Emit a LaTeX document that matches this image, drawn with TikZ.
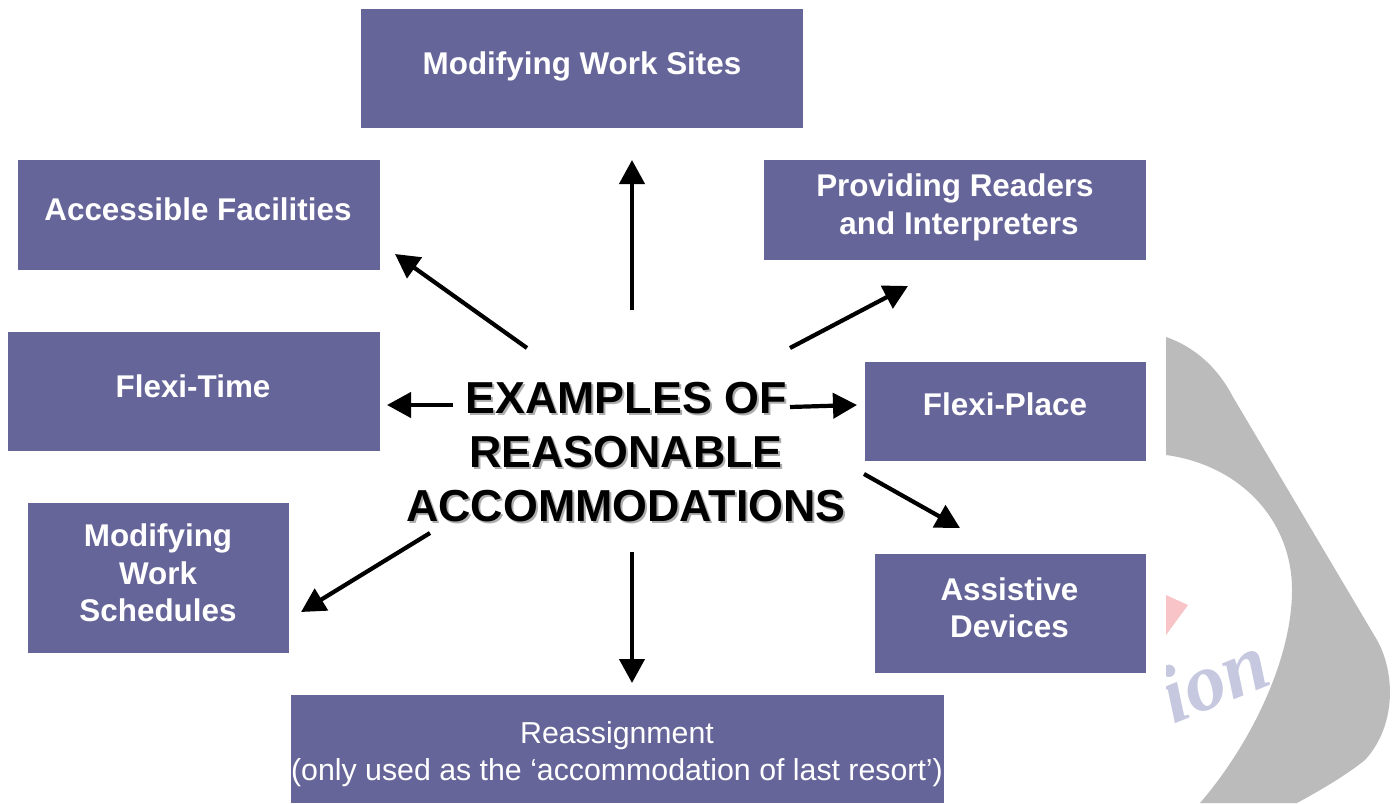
\documentclass[tikz,border=0pt]{standalone}
\usepackage{fontspec}
\setmainfont{Liberation Sans}
\newfontfamily\wmfont{Liberation Serif}
\usetikzlibrary{arrows.meta}
\definecolor{boxfill}{HTML}{666599}
\definecolor{wmgray}{HTML}{BBBBBB}
\definecolor{wmpink}{HTML}{F8C4C8}
\definecolor{wmblue}{HTML}{C6C8E0}
\tikzset{
  boxnode/.style={fill=boxfill,draw=none,inner sep=0pt,anchor=north west},
  boldtext/.style={text=white,align=center,font=\fontsize{31.4}{37.5}\selectfont\bfseries,inner sep=0pt},
  plaintext/.style={text=white,align=center,font=\fontsize{30.3}{37.5}\selectfont,inner sep=0pt},
  hubtext/.style={align=center,font=\fontsize{44.8}{54}\selectfont\bfseries,inner sep=0pt},
  conn/.style={line width=4.2pt,-{Triangle[length=24pt,width=25pt]},black}
}
\begin{document}
\begin{tikzpicture}[x=1pt,y=-1pt]
\useasboundingbox (0,0) rectangle (1397,803);
% watermark
\begin{scope}
\clip (1166,300) rectangle (1397,803);
\fill[wmgray] (1166,337) .. controls (1195,347) and (1218,368) .. (1233,397)
  -- (1377,640) .. controls (1395,672) and (1397,725) .. (1365,760)
  .. controls (1350,772) and (1330,785) .. (1297,803)
  -- (1200,803) .. controls (1250,745) and (1292,660) .. (1292,590)
  .. controls (1292,520) and (1240,465) .. (1166,455) -- cycle;
\fill[wmpink] (1166,595) -- (1188,605) -- (1166,635) -- cycle;
\node[text=wmblue,font=\fontsize{82}{82}\selectfont\wmfont\itshape\bfseries,rotate=22,inner sep=0pt] (wm) at (1214,678) {ion};
\end{scope}
% boxes
\node[boxnode,minimum width=442pt,minimum height=119pt] (sites) at (361,9) {};
\node[boxnode,minimum width=362pt,minimum height=110pt] (access) at (18,160) {};
\node[boxnode,minimum width=382pt,minimum height=100pt] (readers) at (764,160) {};
\node[boxnode,minimum width=372pt,minimum height=119pt] (ftime) at (8,332) {};
\node[boxnode,minimum width=281pt,minimum height=99pt] (fplace) at (865,362) {};
\node[boxnode,minimum width=261pt,minimum height=150pt] (sched) at (28,503) {};
\node[boxnode,minimum width=271pt,minimum height=119pt] (assist) at (875,554) {};
\node[boxnode,minimum width=653pt,minimum height=108pt] (reassign) at (291,695) {};
% box labels
\node[boldtext] (tsites) at (582,66) {Modifying Work Sites};
\node[boldtext] (taccess) at (198,209) {Accessible Facilities};
\node[boldtext] (treaders) at (955,207.5) {Providing Readers\\\hspace*{8pt}and Interpreters};
\node[boldtext] (tftime) at (193,386) {Flexi-Time};
\node[boldtext] (tfplace) at (1005,404) {Flexi-Place};
\node[boldtext] (tsched) at (158,573) {Modifying\\Work\\Schedules};
\node[boldtext] (tassist) at (1009.5,608) {Assistive\\Devices};
\node[plaintext] (treassign) at (617,754) {Reassignment\\(only used as the ‘accommodation of last resort’)};
% hub
\node[hubtext,text=black!32] (hubshadow) at (628,454) {EXAMPLES OF\\REASONABLE\\ACCOMMODATIONS};
\node[hubtext,text=black] (hub) at (626,452) {EXAMPLES OF\\REASONABLE\\ACCOMMODATIONS};
% connector ends
\coordinate (sUp) at (632,310);   \coordinate (eUp) at (632,160);
\coordinate (sAcc) at (527,348);  \coordinate (eAcc) at (395,254);
\coordinate (sRead) at (790,348); \coordinate (eRead) at (908,286);
\coordinate (sFt) at (453,405);   \coordinate (eFt) at (387,405);
\coordinate (sFp) at (790,407);   \coordinate (eFp) at (857,405);
\coordinate (sAs) at (864,474);   \coordinate (eAs) at (960,528);
\coordinate (sSch) at (430,533);  \coordinate (eSch) at (301,612);
\coordinate (sRe) at (632,552);   \coordinate (eRe) at (632,683);
\draw[conn] (sUp) -- (eUp);
\draw[conn] (sAcc) -- (eAcc);
\draw[conn] (sRead) -- (eRead);
\draw[conn] (sFt) -- (eFt);
\draw[conn] (sFp) -- (eFp);
\draw[conn] (sAs) -- (eAs);
\draw[conn] (sSch) -- (eSch);
\draw[conn] (sRe) -- (eRe);
\end{tikzpicture}
\end{document}
